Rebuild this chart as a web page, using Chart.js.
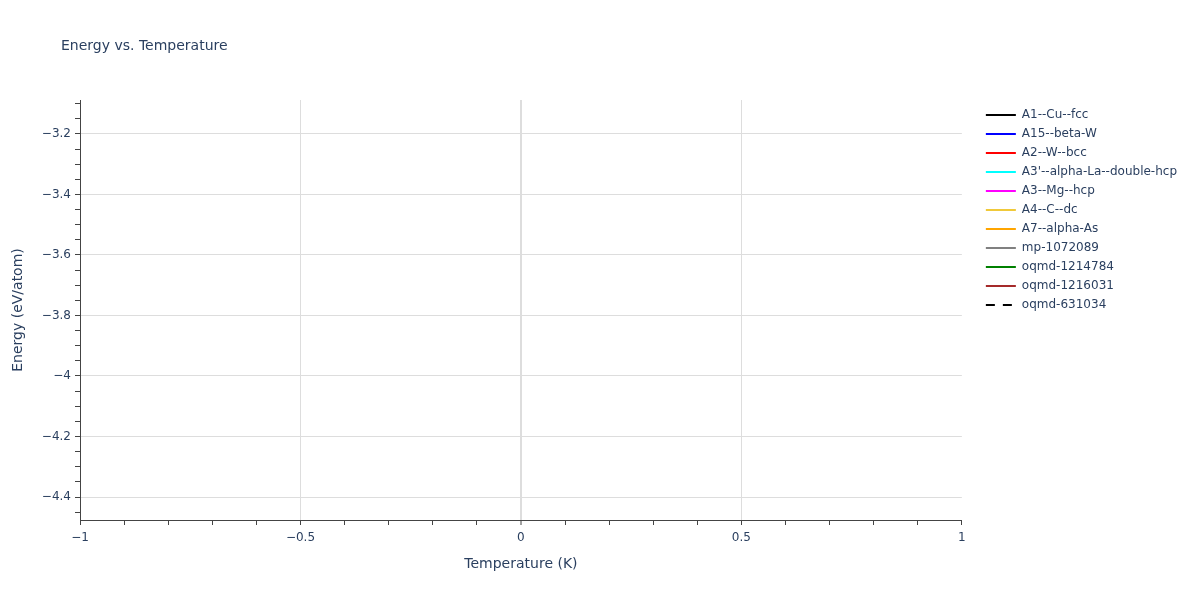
<!DOCTYPE html>
<html>
<head>
    <title>Energy vs. Temperature</title>
    <script src="https://cdn.jsdelivr.net/npm/chart.js"></script>
    <style>
        body {margin: 0; background: #fff;}
        #chartContainer {width: 1200px; height: 600px; position: relative;}
    </style>
</head>
<body>
    <div id="chartContainer">
        <canvas id="chart"></canvas>
    </div>

<script>
    var chartTitle = 'Energy vs. Temperature';
    var xTitle = 'Temperature (K)';
    var yTitle = 'Energy (eV/atom)';

    var seriesNames = ['A1--Cu--fcc', 'A15--beta-W', 'A2--W--bcc', "A3'--alpha-La--double-hcp", 'A3--Mg--hcp',
                       'A4--C--dc', 'A7--alpha-As', 'mp-1072089', 'oqmd-1214784', 'oqmd-1216031', 'oqmd-631034'];
    var seriesColors = ['black', 'blue', 'red', 'cyan', 'magenta',
                        '#f0c93a', 'orange', 'gray', 'green', 'brown', 'black'];
    var seriesDash = [[], [], [], [], [], [], [], [], [], [], [9, 8]];
    // no points fall inside the plotted window
    var seriesData = [[], [], [], [], [], [], [], [], [], [], []];

    var xRange = [-1, 1];
    var yRange = [-4.476, -3.088];
    var xTicks = [-1, -0.5, 0, 0.5, 1];
    var yTicks = [-4.4, -4.2, -4, -3.8, -3.6, -3.4, -3.2];
    var xMinorStep = 0.1;
    var yMinorStep = 0.05;

    var textColor = '#2a3f5f';
    var gridColor = 'rgb(221,221,221)';
    var font = 'DejaVu Sans';

    function minorTicks(min, max, step) {
        var out = [];
        for (var i = Math.ceil(min / step - 1e-9); i * step <= max + 1e-9; i++) {
            out.push({value: +(i * step).toFixed(6)});
        }
        return out;
    }
    function isMajor(v, list) {
        return list.some(function(t) { return Math.abs(t - v) < 1e-6; });
    }
    function fmt(v) {
        return (v < 0 ? '\u2212' : '') + Math.abs(v);
    }

    var datasets = seriesNames.map(function(name, i) {
        return {
            label: name,
            data: seriesData[i],
            borderColor: seriesColors[i],
            backgroundColor: seriesColors[i],
            borderWidth: 2,
            borderDash: seriesDash[i],
            pointRadius: 0,
            fill: false
        };
    });

    var titlePlugin = {
        id: 'plotTitle',
        afterDraw: function(chart) {
            var c = chart.ctx;
            c.save();
            c.font = '14px "' + font + '"';
            c.fillStyle = textColor;
            c.textBaseline = 'middle';
            c.fillText(chartTitle, 61, 46);
            c.restore();
        }
    };
    // plotly leaves a small gap between plot and legend
    var legendGap = {
        id: 'legendGap',
        afterLayout: function(chart) {
            chart.legend.left += 17;
            chart.legend.right += 17;
            chart.legend.top += 2;
        }
    };

    var ctx = document.getElementById('chart').getContext('2d');
    var chart = new Chart(ctx, {
        type: 'line',
        data: {datasets: datasets},
        plugins: [titlePlugin, legendGap],
        options: {
            responsive: true,
            maintainAspectRatio: false,
            animation: false,
            layout: {padding: {top: 100, right: 30, bottom: 0, left: 0}},
            plugins: {
                legend: {
                    position: 'right',
                    align: 'start',
                    labels: {
                        usePointStyle: true,
                        pointStyle: 'line',
                        pointStyleWidth: 30,
                        padding: 7,
                        color: textColor,
                        font: {family: font, size: 12},
                        generateLabels: function(chart) {
                            var items = Chart.defaults.plugins.legend.labels.generateLabels(chart);
                            items.forEach(function(item, i) {
                                item.strokeStyle = seriesColors[i];
                                item.lineWidth = 2;
                                item.lineDash = seriesDash[i];
                                item.lineDashOffset = 0;
                            });
                            return items;
                        }
                    }
                },
                title: {display: false},
                tooltip: {enabled: false}
            },
            scales: {
                x: {
                    type: 'linear',
                    min: xRange[0],
                    max: xRange[1],
                    afterBuildTicks: function(scale) {
                        scale.ticks = minorTicks(xRange[0], xRange[1], xMinorStep);
                    },
                    afterFit: function(scale) { scale.height = 80; },
                    ticks: {
                        autoSkip: false,
                        maxRotation: 0,
                        padding: 6,
                        color: textColor,
                        font: {family: font, size: 12},
                        callback: function(v) { return isMajor(v, xTicks) ? fmt(v) : ''; }
                    },
                    grid: {
                        color: function(context) {
                            var v = context.tick.value;
                            if (Math.abs(Math.abs(v) - 1) < 1e-6) return 'rgba(0,0,0,0)';
                            return isMajor(v, xTicks) ? gridColor : 'rgba(0,0,0,0)';
                        },
                        lineWidth: function(context) {
                            return Math.abs(context.tick.value) < 1e-6 ? 2 : 1;
                        },
                        tickColor: '#444',
                        tickLength: 5,
                        tickWidth: 1
                    },
                    border: {display: true, color: '#444', width: 1},
                    title: {
                        display: true,
                        text: xTitle,
                        color: textColor,
                        font: {family: font, size: 14},
                        padding: {top: 0, bottom: 27}
                    }
                },
                y: {
                    type: 'linear',
                    min: yRange[0],
                    max: yRange[1],
                    afterBuildTicks: function(scale) {
                        scale.ticks = minorTicks(yRange[0], yRange[1], yMinorStep);
                    },
                    afterFit: function(scale) { scale.width = 80; },
                    ticks: {
                        autoSkip: false,
                        padding: 4,
                        color: textColor,
                        font: {family: font, size: 12},
                        callback: function(v) { return isMajor(v, yTicks) ? fmt(v) : ''; }
                    },
                    grid: {
                        color: function(context) {
                            return isMajor(context.tick.value, yTicks) ? gridColor : 'rgba(0,0,0,0)';
                        },
                        tickColor: '#444',
                        tickLength: 5,
                        tickWidth: 1
                    },
                    border: {display: true, color: '#444', width: 1},
                    title: {
                        display: true,
                        text: yTitle,
                        color: textColor,
                        font: {family: font, size: 14},
                        padding: {top: 10, bottom: 0}
                    }
                }
            }
        }
    });
</script>
</body>
</html>
